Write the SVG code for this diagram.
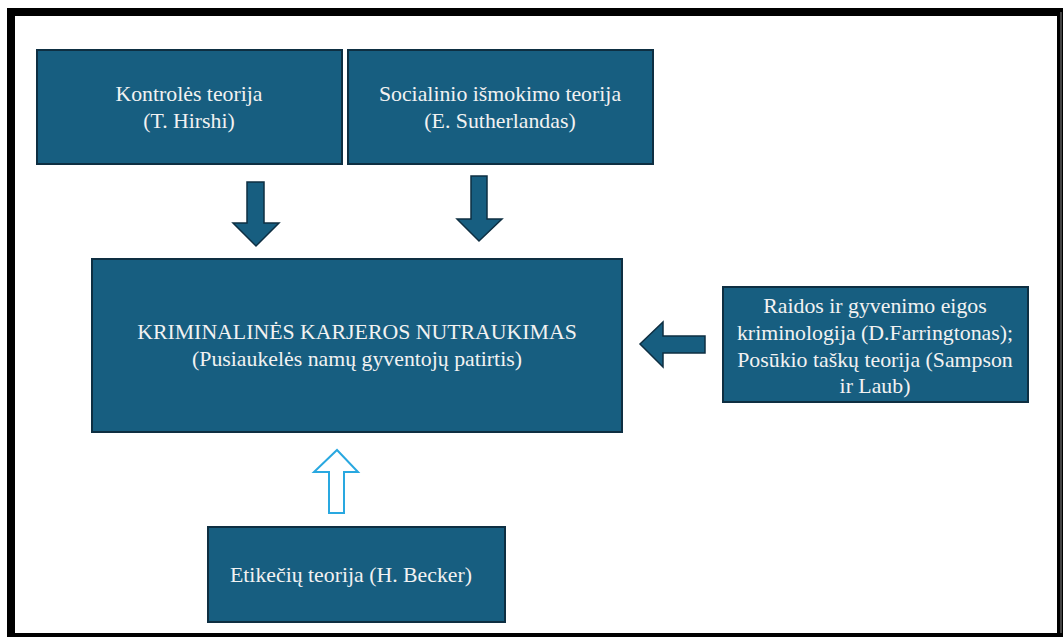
<svg xmlns="http://www.w3.org/2000/svg" width="1063" height="637" viewBox="0 0 1063 637">
<style>
.box{fill:#175e80;stroke:#0e2f42;stroke-width:2}
.arr{fill:#175e80;stroke:#0e2f42;stroke-width:1.5;stroke-linejoin:miter}
.arr2{fill:#ffffff;stroke:#29a8e0;stroke-width:2}
.t{font-family:"Liberation Serif","Times New Roman",serif;font-size:21.8px;fill:#f2f2f2;text-anchor:middle}
</style>
<rect x="0" y="0" width="1063" height="637" fill="#ffffff"/>
<g id="frame">
<path d="M11 637 V12 H1061 V637" fill="none" stroke="#000" stroke-width="8"/>
<rect x="1060" y="12" width="2" height="625" fill="#444"/>
<rect x="7" y="633" width="1056" height="4" fill="#000"/>
</g>
<g id="connectors">
<polygon class="arr" points="247,182 264,182 264,223 279,223 256,246 233,223 247,223"/>
<polygon class="arr" points="471,176 487,176 487,219 502,219 479,241 457,219 471,219"/>
<polygon class="arr" points="705,336 705,353 663,353 663,367 640,344 663,322 663,336"/>
<polygon class="arr2" points="329,513 344,513 344,472 358,472 337,450 314,472 329,472"/>
</g>
<g id="n1">
<rect class="box" x="37" y="50" width="305" height="114"/>
<text class="t" x="189" y="101">Kontrolės teorija</text>
<text class="t" x="189" y="128">(T. Hirshi)</text>
</g>
<g id="n2">
<rect class="box" x="348" y="50" width="305" height="114"/>
<text class="t" x="500" y="101">Socialinio išmokimo teorija</text>
<text class="t" x="500" y="128">(E. Sutherlandas)</text>
</g>
<g id="n3">
<rect class="box" x="92" y="259" width="530" height="173"/>
<text class="t" x="357" y="339">KRIMINALINĖS KARJEROS NUTRAUKIMAS</text>
<text class="t" x="357" y="366">(Pusiaukelės namų gyventojų patirtis)</text>
</g>
<g id="n4">
<rect class="box" x="723" y="287" width="305" height="115"/>
<text class="t" x="875" y="313">Raidos ir gyvenimo eigos</text>
<text class="t" x="875" y="340">kriminologija (D.Farringtonas);</text>
<text class="t" x="875" y="367">Posūkio taškų teorija (Sampson</text>
<text class="t" x="875" y="393">ir Laub)</text>
</g>
<g id="n5">
<rect class="box" x="208" y="527" width="297" height="95"/>
<text class="t" x="351" y="582">Etikečių teorija (H. Becker)</text>
</g>
</svg>
